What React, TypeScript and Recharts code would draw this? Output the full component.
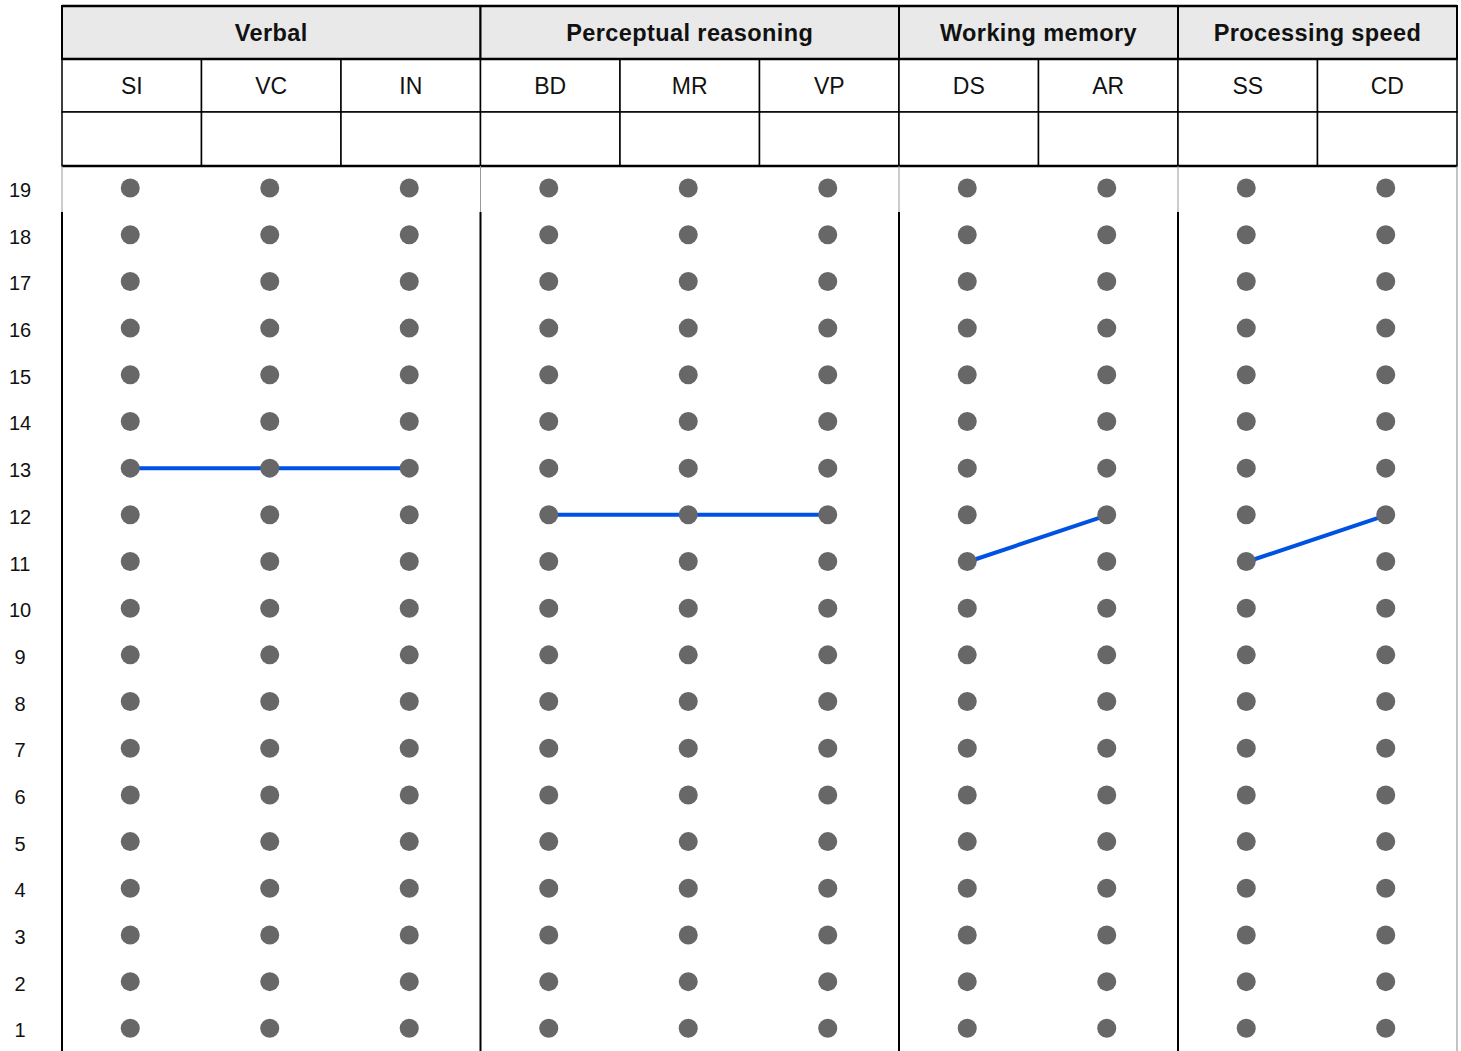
import React from 'react';
import {
  ComposedChart,
  Line,
  Scatter,
  XAxis,
  YAxis,
  ReferenceArea,
  ReferenceLine,
} from 'recharts';

// subtests in column order
const subtests = ['SI', 'VC', 'IN', 'BD', 'MR', 'VP', 'DS', 'AR', 'SS', 'CD'];
const groupNames = ['Verbal', 'Perceptual reasoning', 'Working memory', 'Processing speed'];
const groupSizes = [3, 3, 2, 2];
// scaled score
const scaledScores = [13, 13, 13, 12, 12, 12, 11, 12, 11, 12];
const scoreTicks = [1, 2, 3, 4, 5, 6, 7, 8, 9, 10, 11, 12, 13, 14, 15, 16, 17, 18, 19];

const FONT = '"Liberation Sans", Arial, Helvetica, sans-serif';
const W = 1461;
const H = 1100;
const TOP = 6;
const BOTTOM = 25;
const Y_MAX = 22.9;
const K = (H - TOP - BOTTOM) / Y_MAX;
// pixel row -> y value, used for the header band only
const yAt = (px: number) => Y_MAX - (px - TOP) / K;

const ROW1 = yAt(59);
const ROW2 = yAt(112);
const ROW3 = yAt(166);
const SOLID = yAt(212);

const gridDots = subtests.flatMap((_, i) => scoreTicks.map((s) => ({ x: i + 0.5, y: s })));

let start = 0;
const groups = groupNames.map((name, g) => {
  const from = start;
  start += groupSizes[g];
  return {
    name,
    from,
    to: start,
    points: subtests.slice(from, start).map((_, j) => ({ x: from + j + 0.5, y: scaledScores[from + j] })),
  };
});
const boundaries = [0, ...groups.map((g) => g.to)];

const Dot = (p: any) => <circle cx={p.cx - 1.5} cy={p.cy} r={9.5} fill="#676767" />;

const ScoreTick = (p: any) => (
  <text x={20} y={p.y + 2} textAnchor="middle" dominantBaseline="central" fontSize={20} fill="#111" fontFamily={FONT}>
    {p.payload.value}
  </text>
);

export default function App() {
  return (
    <div style={{ position: 'absolute', left: 0, top: 0, background: '#fff', fontFamily: FONT }}>
      <ComposedChart width={W} height={H} margin={{ top: TOP, right: 4, left: 0, bottom: BOTTOM }}>
        <XAxis dataKey="x" type="number" domain={[0, 10]} hide />
        <YAxis
          dataKey="y"
          type="number"
          domain={[0, Y_MAX]}
          ticks={scoreTicks}
          width={62}
          axisLine={false}
          tickLine={false}
          tick={<ScoreTick />}
          interval={0}
        />

        {groups.map((g) => (
          <ReferenceArea
            key={g.name}
            x1={g.from}
            x2={g.to}
            y1={ROW1}
            y2={Y_MAX}
            fill="#e8e9e8"
            fillOpacity={1}
            stroke="#000"
            strokeWidth={2}
            label={{
              value: g.name,
              position: 'center',
              fill: '#111',
              fontSize: 23.5,
              fontWeight: 700,
              fontFamily: FONT,
              letterSpacing: 0.4,
            }}
          />
        ))}
        {subtests.map((code, i) => (
          <ReferenceArea
            key={code}
            x1={i}
            x2={i + 1}
            y1={ROW2}
            y2={ROW1}
            fill="#fff"
            fillOpacity={1}
            stroke="#000"
            strokeWidth={1.5}
            label={{ value: code, position: 'center', fill: '#111', fontSize: 23, fontFamily: FONT }}
          />
        ))}
        {subtests.map((code, i) => (
          <ReferenceArea
            key={code + '-blank'}
            x1={i}
            x2={i + 1}
            y1={ROW3}
            y2={ROW2}
            fill="#fff"
            fillOpacity={1}
            stroke="#000"
            strokeWidth={1.5}
          />
        ))}
        <ReferenceLine y={ROW1} stroke="#000" strokeWidth={2.5} />
        <ReferenceLine y={ROW3} stroke="#000" strokeWidth={2.5} />
        <ReferenceLine y={Y_MAX} stroke="#000" strokeWidth={2.5} />

        {boundaries.slice(0, -1).map((b) => (
          <ReferenceLine
            key={'thin' + b}
            segment={[{ x: b, y: ROW3 }, { x: b, y: SOLID }]}
            stroke="#999"
            strokeWidth={1}
          />
        ))}
        {boundaries.slice(0, -1).map((b) => (
          <ReferenceLine
            key={'solid' + b}
            segment={[{ x: b, y: SOLID }, { x: b, y: 0 }]}
            stroke="#000"
            strokeWidth={2}
          />
        ))}
        <ReferenceLine segment={[{ x: 10, y: ROW3 }, { x: 10, y: 0 }]} stroke="#888" strokeWidth={1} />

        <Scatter data={gridDots} shape={<Dot />} isAnimationActive={false} />

        {groups.map((g) => (
          <Line
            key={g.name + '-line'}
            data={g.points}
            dataKey="y"
            type="monotone"
            stroke="#0052e3"
            strokeWidth={4}
            strokeLinecap="round"
            dot={false}
            activeDot={false}
            isAnimationActive={false}
          />
        ))}
      </ComposedChart>
    </div>
  );
}
